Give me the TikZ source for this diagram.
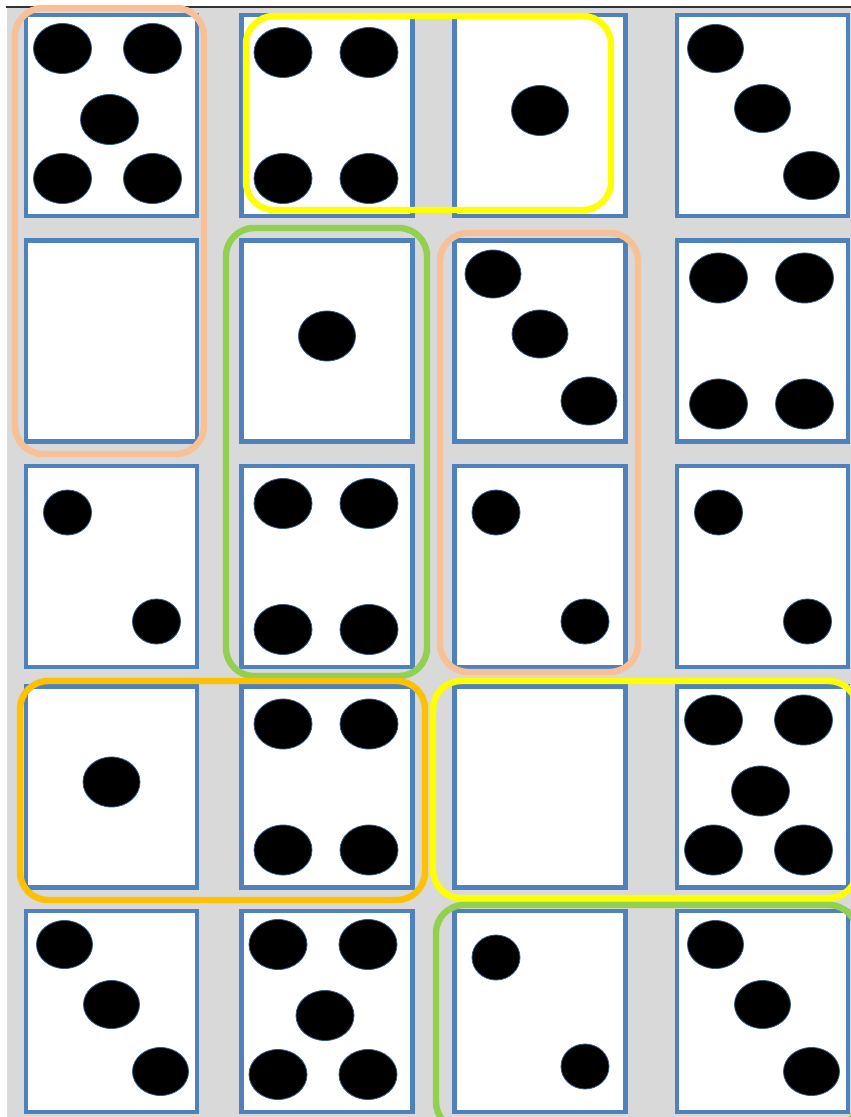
\documentclass[tikz,border=0pt]{standalone}
\usepackage{tikz}
\usetikzlibrary{shadows}
\usepackage{xcolor}
\definecolor{cbleu}{RGB}{79,129,189}
\definecolor{cfond}{RGB}{217,217,217}
\definecolor{cpeche}{RGB}{248,192,150}
\definecolor{cjaune}{RGB}{255,255,0}
\definecolor{cvert}{RGB}{146,208,80}
\definecolor{corange}{RGB}{255,192,0}

\begin{document}
\begin{tikzpicture}[x=0.03cm, y=-0.03cm,
  carte/.style={draw=cbleu, line width=4pt, fill=white, inner sep=0pt,
    minimum width=5.13cm, minimum height=6.03cm,
    drop shadow={shadow xshift=1pt, shadow yshift=-2pt, opacity=0.3}},
  pastille/.style={fill=black, draw=cbleu!70!black, line width=0.7pt},
  groupe/.style={line width=5.5pt, rounded corners=24pt}]
\useasboundingbox (0,0) rectangle (851,1117);
\clip (0,0) rectangle (851,1117);
\fill[cfond] (7,8) rectangle (851,1117);
\draw[line width=1.2pt, black!80] (6,7) -- (851,7);
\foreach \ligne/\y in {1/115.5,2/341,3/566.5,4/787,5/1011.5}
  \foreach \col/\x in {1/111.5,2/327,3/540,4/762.5}
    \node[carte] (c\ligne\col) at (\x,\y) {};
\foreach \c in {c11,c44,c52}
  \foreach \dx/\dy in {-49/-67,41/-67,-2/4,-49/63,41/63}
    \draw[pastille] ([shift={(\dx,\dy)}]\c.center) ellipse (29 and 25);
\foreach \c in {c12,c24,c32,c42}
  \foreach \dx/\dy in {-44/-63,42/-63,-44/63,42/63}
    \draw[pastille] ([shift={(\dx,\dy)}]\c.center) ellipse (29 and 25);
\foreach \c in {c14,c23,c51,c54}
  \foreach \dx/\dy in {-47/-67,0/-7,49/60}
    \draw[pastille] ([shift={(\dx,\dy)}]\c.center) ellipse (28 and 24);
\foreach \c in {c31,c33,c34,c53}
  \foreach \dx/\dy in {-44/-54,45/55}
    \draw[pastille] ([shift={(\dx,\dy)}]\c.center) ellipse (24 and 22.5);
\foreach \c in {c13,c22,c41}
  \draw[pastille] ([shift={(0,-5)}]\c.center) ellipse (28.5 and 25);
\draw[groupe, cpeche] (15,8) rectangle (204,454);
\draw[groupe, cjaune] (246,16) rectangle (611,210);
\draw[groupe, cvert] (226,228) rectangle (427,676);
\draw[groupe, cpeche] (440,233) rectangle (638,672);
\draw[groupe, corange] (20,681) rectangle (425,900);
\draw[groupe, cjaune] (433,681) rectangle (857,898);
\draw[groupe, cvert] (436,905) rectangle (857,1130);
\end{tikzpicture}
\end{document}
